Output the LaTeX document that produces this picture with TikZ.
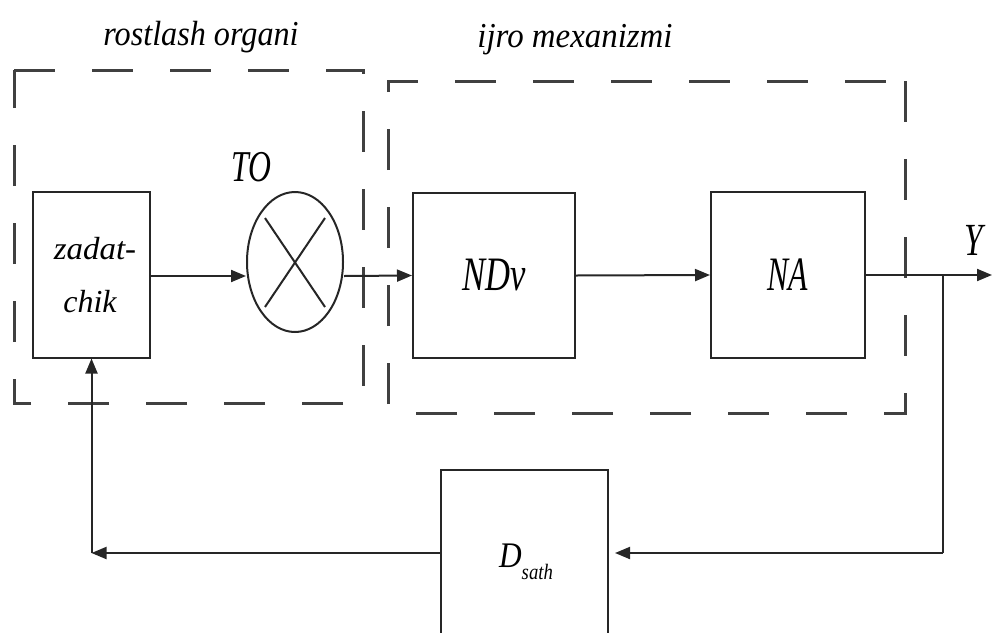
\documentclass[tikz,border=0pt]{standalone}
\usepackage{fontspec}
\usepackage{graphicx}
\setmainfont{Liberation Serif}
\usetikzlibrary{arrows.meta,shapes.geometric}
\newcommand{\lbl}[3]{\fontsize{#1}{#1}\selectfont\itshape\scalebox{#2}[1]{#3}}
\begin{document}
\begin{tikzpicture}[x=1pt,y=-1pt,
  blk/.style={draw=black!85, line width=2pt, minimum width=#1, inner sep=0pt},
  blk/.default=117pt,
  grp/.style={draw=black!75, line width=3pt, dash pattern=on 41pt off 37pt},
  arr/.style={line width=2pt, draw=black!85, -{Triangle[length=15pt,width=12pt]}},
  ln/.style={line width=2pt, draw=black!85}]
\useasboundingbox (0,0) rectangle (992,632);
% group frames
\draw[grp] (14,70) -- (363,70) -- (363,403) -- (14,403) -- cycle;
\draw[grp] (905,81) -- (905,413) -- (388,413) -- (388,81) -- cycle;
\node (g1) at (201,37) {\lbl{35}{0.92}{rostlash organi}};
\node (g2) at (575,40) {\lbl{35}{0.94}{ijro mexanizmi}};
% blocks
\node[blk=117pt, minimum height=166pt] (zad) at (91.5,274.5) {};
\node (zt1) at (95,249) {\lbl{32}{1.03}{zadat-}};
\node (zt2) at (90,302) {\lbl{32}{1}{chik}};
\node[draw=black!85, line width=2pt, ellipse, minimum width=96pt, minimum height=140pt, inner sep=0pt] (to) at (295,262) {};
\draw[ln] (265,218) -- (325,307);
\draw[ln] (265,307) -- (325,218);
\node (tol) at (251,167) {\lbl{44}{0.72}{TO}};
\node[blk=162pt, minimum height=165pt] (nd) at (494,275.5) {\lbl{48}{0.72}{NDv}};
\node[blk=154pt, minimum height=166pt] (na) at (788,275) {\lbl{48}{0.66}{NA}};
\node[blk=167pt, minimum height=166pt] (ds) at (524.5,553) {};
\node (dt) at (526,562) {\fontsize{36}{36}\selectfont\itshape\scalebox{0.87}[1]{D}\raisebox{-12pt}{\fontsize{22}{22}\selectfont\scalebox{0.85}[1]{sath}}};
\node (yl) at (974,240) {\lbl{46}{0.72}{Y}};
% connectors
\coordinate (out) at (992,275);
\coordinate (br) at (943,275);
\coordinate (bd) at (943,553);
\coordinate (fb) at (zad.south |- ds.west);
\draw[arr] (zad.east |- 0,276) -- (to.west |- 0,276);
\draw[arr] (to.east |- 0,276) -- (nd.west);
\draw[arr] (nd.east) -- (na.west);
\draw[arr] (na.east) -- (out);
\draw[ln] (br) -- (bd);
\draw[arr] (bd) -- ([xshift=6pt]ds.east);
\draw[arr] (ds.west) -- (fb);
\draw[arr] (fb) -- (zad.south);
\end{tikzpicture}
\end{document}
